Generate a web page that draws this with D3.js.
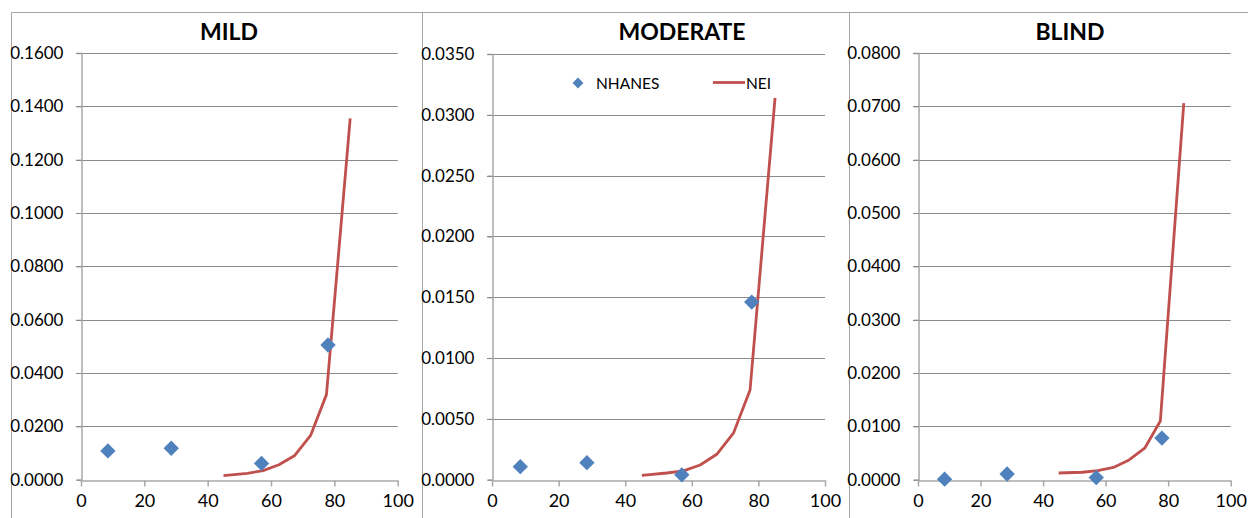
<!DOCTYPE html>
<html>
<head>
<meta charset="utf-8">
<script src="https://cdn.jsdelivr.net/npm/d3@7"></script>
<style>
  html, body { margin: 0; padding: 0; background: #ffffff; }
  svg { display: block; }
  text { font-family: Lato, "Liberation Sans", sans-serif; fill: #000; }
</style>
</head>
<body>
<svg id="chart" width="1248" height="518"></svg>
<script>
// ---- data ----
const panelTitles = ["MILD", "MODERATE", "BLIND"];
const xTicks = [0, 20, 40, 60, 80, 100];
const nhanesAges = [8.5, 28.5, 57, 78];
const neiAges = [45, 52.5, 57.5, 62.5, 67.5, 72.5, 77.5, 85];

const mildNhanes = [0.0108, 0.0118, 0.0061, 0.0505];
const mildNei = [0.0015, 0.0024, 0.0034, 0.0056, 0.0091, 0.0166, 0.0319, 0.1355];
const mildYTicks = [0, 0.02, 0.04, 0.06, 0.08, 0.10, 0.12, 0.14, 0.16];

const moderateNhanes = [0.00107, 0.0014, 0.0004, 0.0146];
const moderateNei = [0.00036, 0.00055, 0.00072, 0.00121, 0.00209, 0.00382, 0.00738, 0.0314];
const moderateYTicks = [0, 0.005, 0.010, 0.015, 0.020, 0.025, 0.030, 0.035];

const blindNhanes = [0.0001, 0.00107, 0.0004, 0.0078];
const blindNei = [0.00126, 0.0014, 0.0017, 0.0023, 0.0037, 0.0059, 0.011, 0.0706];
const blindYTicks = [0, 0.01, 0.02, 0.03, 0.04, 0.05, 0.06, 0.07, 0.08];

const legendLabels = ["NHANES", "NEI"];

// ---- layout ----
const panels = [
  { title: panelTitles[0], nh: mildNhanes, nei: mildNei, yt: mildYTicks, frame: 11.5, x0: 81, x1: 397.7, top: 53, titleX: 229 },
  { title: panelTitles[1], nh: moderateNhanes, nei: moderateNei, yt: moderateYTicks, frame: 422.5, x0: 492, x1: 825, top: 54, titleX: 682, legend: true },
  { title: panelTitles[2], nh: blindNhanes, nei: blindNei, yt: blindYTicks, frame: 849.5, x0: 918, x1: 1230.7, top: 53, titleX: 1070 }
];
const bottom = 479.7;
const blue = "#4F81BD", red = "#C0504D";
const gridColor = "#8a8a8a", axisColor = "#a8a8a8", frameColor = "#a6a6a6";

const svg = d3.select("#chart");

// frame: top border and panel separators
svg.append("line").attr("x1", 11.5).attr("x2", 1248).attr("y1", 12.5).attr("y2", 12.5)
  .attr("stroke", frameColor).attr("stroke-width", 1);
panels.forEach(p => {
  svg.append("line").attr("x1", p.frame).attr("x2", p.frame).attr("y1", 12.5).attr("y2", 518)
    .attr("stroke", frameColor).attr("stroke-width", 1);
});

const fmt = d3.format(".4f");
const diamond = d3.symbol().type(d3.symbolDiamond2);

panels.forEach(p => {
  const x = d3.scaleLinear().domain([0, 100]).range([p.x0, p.x1]);
  const y = d3.scaleLinear().domain([0, d3.max(p.yt)]).range([bottom, p.top]);
  const g = svg.append("g");

  // gridlines
  g.append("g").selectAll("line").data(p.yt.slice(1)).join("line")
    .attr("x1", p.x0 - 5).attr("x2", p.x1)
    .attr("y1", d => Math.round(y(d)) + 0.5).attr("y2", d => Math.round(y(d)) + 0.5)
    .attr("stroke", gridColor).attr("stroke-width", 1);

  // y axis
  const yAxis = g.append("g").attr("transform", `translate(${Math.round(p.x0) + 0.5},0)`)
    .call(d3.axisLeft(y).tickValues(p.yt).tickFormat(fmt).tickSize(5).tickPadding(13));
  yAxis.select(".domain").attr("stroke", axisColor).attr("stroke-width", 1.5);
  yAxis.selectAll(".tick line").attr("stroke", gridColor);
  yAxis.selectAll("text").style("font-size", "17px").attr("fill", "#000")
    .style("font-family", "Lato, 'Liberation Sans', sans-serif");

  // x axis
  const xAxis = g.append("g").attr("transform", `translate(0,${Math.round(bottom) + 0.5})`)
    .call(d3.axisBottom(x).tickValues(xTicks).tickFormat(d3.format("d")).tickSize(6).tickPadding(8).tickSizeOuter(0));
  xAxis.select(".domain").attr("stroke", axisColor).attr("stroke-width", 1.5);
  xAxis.selectAll(".tick line").attr("stroke", axisColor).attr("stroke-width", 1.5);
  xAxis.selectAll("text").style("font-size", "18px").attr("fill", "#000")
    .style("font-family", "Lato, 'Liberation Sans', sans-serif");

  // title
  g.append("text").attr("x", p.titleX).attr("y", 40).attr("text-anchor", "middle")
    .style("font-size", "23px").style("font-weight", "bold").text(p.title);

  // NEI line
  const neiData = neiAges.map((a, i) => [a, p.nei[i]]);
  g.append("path").datum(neiData)
    .attr("d", d3.line().x(d => x(d[0])).y(d => y(d[1])))
    .attr("fill", "none").attr("stroke", red).attr("stroke-width", 2.8)
    .attr("stroke-linejoin", "round");

  // NHANES diamonds
  const nhData = nhanesAges.map((a, i) => [a, p.nh[i]]);
  g.append("g").selectAll("path").data(nhData).join("path")
    .attr("transform", d => `translate(${x(d[0])},${y(d[1])})`)
    .attr("d", diamond.size(150)).attr("fill", blue);

  // legend
  if (p.legend) {
    const lg = g.append("g");
    lg.append("path").attr("transform", "translate(578,83)").attr("d", diamond.size(75)).attr("fill", blue);
    lg.append("text").attr("x", 596).attr("y", 89).style("font-size", "15.5px").text(legendLabels[0]);
    lg.append("line").attr("x1", 713).attr("x2", 745).attr("y1", 82.5).attr("y2", 82.5)
      .attr("stroke", red).attr("stroke-width", 2.8);
    lg.append("text").attr("x", 746).attr("y", 89).style("font-size", "15.5px").text(legendLabels[1]);
  }
});
</script>
</body>
</html>
